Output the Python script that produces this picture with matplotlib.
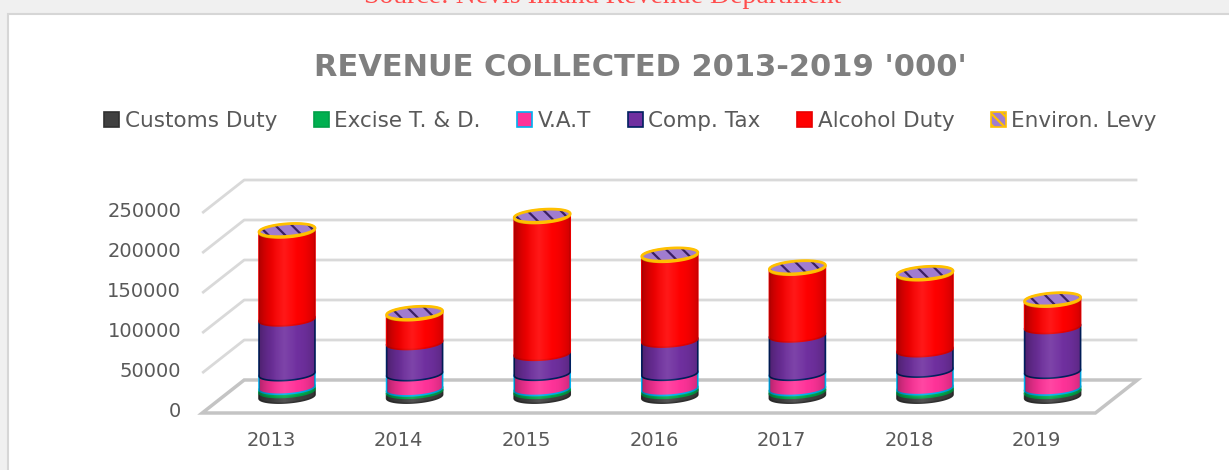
import numpy as np
import matplotlib.pyplot as plt
from matplotlib.patches import Polygon, Patch, Rectangle

years = ['2013', '2014', '2015', '2016', '2017', '2018', '2019']
customs = [7000, 6000, 6000, 6000, 6000, 6500, 6000]
excise = [4000, 3000, 3500, 3500, 3500, 4000, 4000]
vat = [17000, 19000, 19000, 19000, 19000, 22000, 21000]
comp_tax = [68500, 39000, 25000, 41500, 48000, 25500, 56000]
alcohol = [110000, 36000, 171000, 106000, 83500, 95000, 33000]
environ = [1500, 1500, 1500, 1500, 1500, 1500, 1500]
yticks = [0, 50000, 100000, 150000, 200000, 250000]

series = [
    ('Customs Duty', customs, '#404040', '#303030'),
    ('Excise T. & D.', excise, '#00b050', '#00a048'),
    ('V.A.T', vat, '#ff3399', '#00b0f0'),
    ('Comp. Tax', comp_tax, '#7030a0', '#002060'),
    ('Alcohol Duty', alcohol, '#ff0000', '#e80000'),
    ('Environ. Levy', environ, '#a07cd0', '#ffc000'),
]

plt.rcParams['hatch.linewidth'] = 1.6
fig = plt.figure(figsize=(12.29, 4.70), dpi=100)
fig.patch.set_facecolor('#f0f0f0')
fig.patches.append(Rectangle((8 / 1229, -0.01), 1.0, 1 - 13.5 / 470 + 0.01,
                             transform=fig.transFigure, facecolor='white',
                             edgecolor='#d6d6d6', lw=1.5, zorder=-5))
fig.text(0.49, 1 - 2.7 / 470, 'Source: Nevis Inland Revenue Department',
         family='Liberation Serif', fontsize=20, color='#ff4d4d',
         ha='center', va='baseline')

ax = fig.add_axes([0, 0, 1, 1])
ax.axis('off')

# oblique "3d" projection: depth d in [-0.5, 0.5]
SX = 42 / 127.6
SY = 33 * 1250


def proj(i, v, d):
    return i + d * SX, v + d * SY


n = len(years)
left, right = -0.5, n - 0.5

# walls / gridlines
for v in yticks[1:]:
    p0 = proj(left, v, -0.5)
    p1 = proj(left, v, 0.5)
    p2 = proj(right, v, 0.5)
    ax.plot([p0[0], p1[0], p2[0]], [p0[1], p1[1], p2[1]], color='#d9d9d9',
            lw=2, solid_capstyle='butt', zorder=1)
floor = [proj(left, 0, -0.5), proj(right, 0, -0.5), proj(right, 0, 0.5), proj(left, 0, 0.5)]
ax.add_patch(Polygon(floor, closed=True, facecolor='white', edgecolor='#c4c4c4', lw=2.5, zorder=1))

for v in yticks:
    x, y = proj(left, v, -0.5)
    ax.text(x - 0.165, y + 2000, str(v), ha='right', va='center', fontsize=14, color='#595959')
for i, yr in enumerate(years):
    ax.text(i - 0.125, -55000, yr, ha='center', va='center', fontsize=14, color='#595959')

# cylinders
RX = 26.7 / 127.6
RD = 0.2
t_ext = np.arctan2(RD * SX, RX)
lower = np.linspace(t_ext + np.pi, t_ext + 2 * np.pi, 60)
upper = np.linspace(t_ext, t_ext + np.pi, 60)
full = np.linspace(0, 2 * np.pi, 120)
W = np.hypot(RX, RD * SX)


def ell(c, v, t):
    return np.column_stack([c + RX * np.cos(t) + RD * SX * np.sin(t), v + RD * SY * np.sin(t)])


grad = np.linspace(-1, 1, 80)
shade = np.zeros((1, 80, 4))
shade[0, :, 3] = 0.24 * np.abs(grad - 0.1) ** 2.5
light = np.ones((1, 80, 4))
light[0, :, 3] = 0.10 * np.clip(1 - np.abs(grad + 0.1) * 2.0, 0, 1)

for i in range(n):
    base = 0
    z = 3
    for name, vals, fc, ec in series:
        top = base + vals[i]
        pts = np.vstack([ell(i, base, lower), ell(i, top, upper)])
        ax.add_patch(Polygon(pts, closed=True, facecolor=fc, edgecolor=ec, lw=1.2, zorder=z))
        base = top
        z += 0.1
    body = Polygon(np.vstack([ell(i, 0, lower), ell(i, base, upper)]), closed=True,
                   facecolor='none', edgecolor='none', zorder=z)
    ax.add_patch(body)
    for img in (shade, light):
        im = ax.imshow(img, extent=[i - W, i + W, -20000, base + 20000], aspect='auto',
                       interpolation='bilinear', zorder=z + 0.05)
        im.set_clip_path(body)
    cap = ell(i, base, full)
    ax.add_patch(Polygon(cap, closed=True, facecolor='#a07cd0', edgecolor='#3a1f63',
                         lw=0, hatch='\\\\', zorder=z + 0.2))
    ax.add_patch(Polygon(cap, closed=True, fill=False, edgecolor='#ffc000', lw=2, zorder=z + 0.3))

ax.set_xlim(-287 / 127.6, (1229 - 287) / 127.6)
ax.set_ylim(-73.5 * 1250, (470 - 73.5) * 1250)

fig.text(0.521, 1 - 68 / 470, "REVENUE COLLECTED 2013-2019 '000'", fontsize=22,
         weight='bold', color='#7f7f7f', ha='center', va='center')

handles = []
for name, vals, fc, ec in series:
    if name == 'Environ. Levy':
        handles.append(Patch(facecolor=fc, edgecolor=ec, hatch='\\\\\\', lw=1.2, label=name))
    else:
        handles.append(Patch(facecolor=fc, edgecolor=ec, lw=1.2, label=name))
fig.legend(handles=handles, loc='center', bbox_to_anchor=(0.513, 1 - 121 / 470), ncol=6,
           frameon=False, fontsize=15.5, handlelength=0.7, handleheight=0.7,
           handletextpad=0.25, columnspacing=1.7, labelcolor='#595959')

fig.savefig('out.png', dpi=100, facecolor=fig.get_facecolor())
